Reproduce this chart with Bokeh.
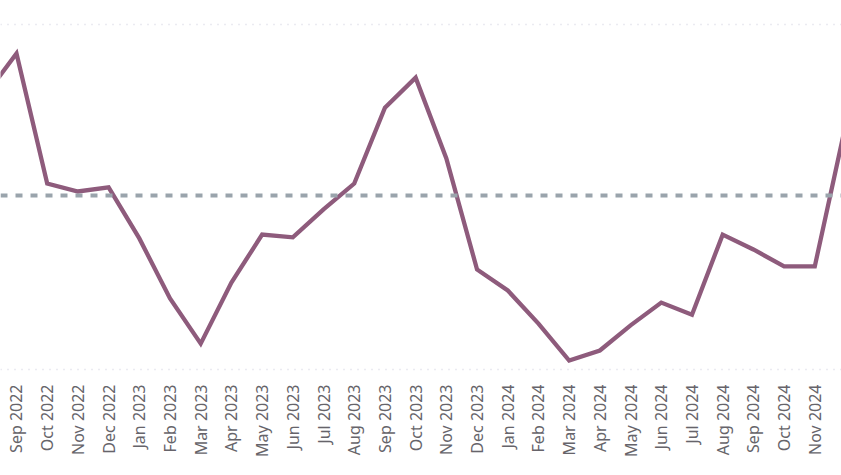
import numpy as np
from bokeh.plotting import figure
from bokeh.models import Range1d, FixedTicker, Span
from bokeh.embed import file_html
from bokeh.resources import INLINE

months = ["Aug 2022", "Sep 2022", "Oct 2022", "Nov 2022", "Dec 2022",
          "Jan 2023", "Feb 2023", "Mar 2023", "Apr 2023", "May 2023", "Jun 2023",
          "Jul 2023", "Aug 2023", "Sep 2023", "Oct 2023", "Nov 2023", "Dec 2023",
          "Jan 2024", "Feb 2024", "Mar 2024", "Apr 2024", "May 2024", "Jun 2024",
          "Jul 2024", "Aug 2024", "Sep 2024", "Oct 2024", "Nov 2024", "Dec 2024"]
values = [79.7, 91.6, 53.9, 51.6, 52.8,
          38.0, 20.6, 7.5, 25.2, 39.1, 38.3,
          46.4, 53.9, 75.9, 84.6, 61.2, 29.0,
          22.9, 13.3, 2.6, 5.5, 12.8, 19.4,
          15.9, 39.1, 34.8, 29.9, 29.9, 70.7]
reference_level = 50.4
grid_levels = [0, 100]

W, H = 841, 475
xs = np.arange(len(months))

p = figure(width=W, height=H, output_backend="svg", toolbar_location=None,
           x_range=Range1d(0.479, 27.87), y_range=Range1d(-0.87, 106.96),
           min_border_left=0, min_border_right=0, min_border_top=0,
           min_border_bottom=103)
p.outline_line_color = None
p.background_fill_color = "white"
p.border_fill_color = "white"

p.yaxis.visible = False
p.xgrid.grid_line_color = None
p.ygrid.ticker = FixedTicker(ticks=grid_levels)
p.ygrid.grid_line_color = "#D6D6E3"
p.ygrid.grid_line_dash = "1 6"
p.ygrid.grid_line_width = 1.5

p.xaxis.ticker = FixedTicker(ticks=list(xs))
p.xaxis.major_label_overrides = {int(i): m for i, m in zip(xs, months)}
p.xaxis.major_label_orientation = np.pi / 2
p.xaxis.axis_line_color = None
p.xaxis.major_tick_line_color = None
p.xaxis.minor_tick_line_color = None
p.xaxis.major_label_text_color = "#66646A"
p.xaxis.major_label_text_font = "Noto Sans"
p.xaxis.major_label_text_font_size = "16px"
p.xaxis.major_label_standoff = 6

p.add_layout(Span(location=reference_level, dimension="width",
                  line_color="#9AA4AC", line_width=4, line_dash="7 8"))
p.line(xs, values, line_color="#8E5B7C", line_width=4.3, line_join="miter")

open("out.html", "w").write(file_html(p, INLINE))
